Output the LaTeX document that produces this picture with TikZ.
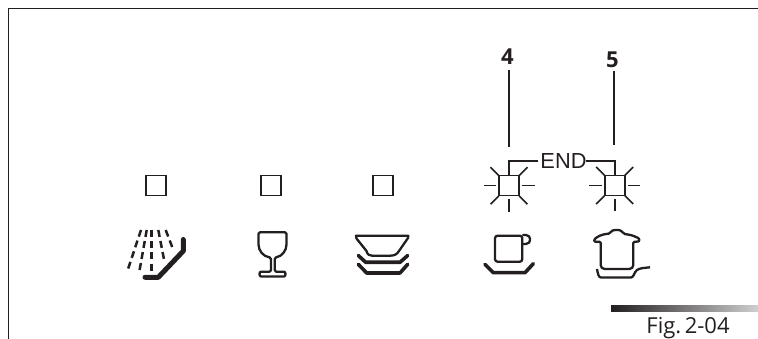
\documentclass[tikz,border=0pt]{standalone}
\usepackage{fontspec}
\setmainfont{Liberation Sans}
\newfontfamily\figfont{Open Sans}
\usetikzlibrary{shadings}
\definecolor{ink}{HTML}{231F20}
\definecolor{barlight}{HTML}{CFCFCF}
\tikzset{
  x=1pt,y=-1pt,
  ink/.style={draw=ink,line cap=butt,line join=round},
  lamp/.style={draw=ink,line width=1.6pt,minimum size=20pt,inner sep=0pt,outer sep=0pt},
  ray/.style={draw=ink,line width=1.6pt},
  leader/.style={draw=ink,line width=2.4pt},
  wire/.style={draw=ink,line width=1.6pt},
  spray/.style={draw=ink,line width=2.5pt,dash pattern=on 7pt off 4.2pt},
  bold icon/.style={ink,line width=3.6pt,line cap=round},
  thin icon/.style={ink,line width=2.3pt},
  num/.style={font=\figfont\bfseries\fontsize{22}{22}\selectfont,text=ink,inner sep=0pt}
}
\begin{document}
\begin{tikzpicture}
\useasboundingbox (0,0) rectangle (758,339);
% frame
\draw[draw=ink,line width=1.3pt] (8.3,339) -- (8.3,8.3) -- (758,8.3);
% lamps
\node[lamp] (l1) at (156,185.7) {};
\node[lamp] (l2) at (270.7,185.7) {};
\node[lamp] (l3) at (382.8,185.7) {};
\node[lamp] (l4) at (509,185.7) {};
\node[lamp] (l5) at (614.7,185.5) {};
% rays
\foreach \n/\cx/\cy in {l4/509/185.7,l5/614.7/185.5}{
  \draw[ray] (\cx-25.5,\cy) -- (\cx-13,\cy);
  \draw[ray] (\cx+13,\cy) -- (\cx+25.5,\cy);
  \draw[ray] (\cx,\cy+13.5) -- (\cx,\cy+26);
  \draw[ray] (\cx-18.5,\cy-18.5) -- (\cx-10.2,\cy-10.2);
  \draw[ray] (\cx+18.5,\cy-18.5) -- (\cx+10.2,\cy-10.2);
  \draw[ray] (\cx-18.5,\cy+18.5) -- (\cx-10.2,\cy+10.2);
  \draw[ray] (\cx+18.5,\cy+18.5) -- (\cx+10.2,\cy+10.2);
}
% END
\node[inner sep=0pt,outer sep=0pt,text=ink,font=\fontsize{21.8}{21.8}\selectfont,anchor=base] (endt) at (563.5,168.2) {END};
\coordinate (wl) at ([xshift=-2pt]endt.west);
\draw[wire] (wl |- 0,160.8) -| (l4.north);
\draw[wire] (586,160.8) -| (l5.north);
% numbers and leaders
\node[num,anchor=base] (n4) at (507.5,64.3) {4};
\node[num,anchor=base] (n5) at (612.5,67.3) {5};
\coordinate (e4) at (508.7,146.7);
\coordinate (e5) at (614,145.3);
\draw[leader] (508.7,70) -- (e4);
\draw[leader] (614,71.3) -- (e5);
% spray icon
\draw[bold icon,line width=5pt] (183.3,239.5) -- (183.3,251) -- (158.3,277.3) -- (145,277.3);
\draw[spray] (141,230) -- (127.7,270);
\draw[spray] (146.7,230) -- (139.3,271.7);
\draw[spray] (151.7,230) -- (151.7,273);
\draw[spray] (158.3,230) -- (164.3,261);
\draw[spray] (165.7,230) -- (172.7,248.3);
% glass
\draw[thin icon,rounded corners=1.5pt] (271,257.5) .. controls (263,256.5) and (258.5,250.5) .. (258.5,243) -- (258.5,232.3) -- (286.5,232.3) -- (286.5,243) .. controls (286.5,250.5) and (282,256.5) .. (274.7,257.5) -- (274.7,271.7) -- (282.5,271.7) .. controls (286,271.7) and (286,276.5) .. (282.5,276.5) -- (262.5,276.5) .. controls (259,276.5) and (259,271.7) .. (262.5,271.7) -- (271,271.7) -- cycle;
% dishes
\draw[thin icon] (356,235.7) -- (408.3,235.7) -- (408,238) -- (399,251) .. controls (397,254.5) and (394,255.7) .. (390,255.7) -- (372,255.7) .. controls (369,255.7) and (367.5,254.5) .. (366.5,251) -- (356.5,238.5) -- cycle;
\draw[bold icon] (358.3,255.5) -- (365.7,262.3) -- (400,262.3) -- (407.7,255.5);
\draw[bold icon] (358.3,264.3) -- (366.7,273) -- (400,273) -- (407.7,264.3);
% cup
\draw[thin icon,rounded corners=2.5pt] (495,235.7) rectangle (522.3,261.7);
\draw[thin icon] (522.3,235) -- (526,235) .. controls (531.5,235) and (531.5,244) .. (526,244) -- (522.3,244);
\draw[bold icon] (485,264.3) -- (493.3,272.7) -- (525,272.7) -- (533.3,263.7);
% pot
\draw[thin icon,rounded corners=1.2pt] (600.7,241.7) -- (600.7,264) .. controls (600.7,267.5) and (602.5,269) .. (606,269) -- (628,269) .. controls (631.5,269) and (633.3,267.5) .. (633.3,264) -- (633.3,241.7) -- (637.5,241.7) .. controls (640,241) and (639.5,238.5) .. (637,237.5) .. controls (632,235) and (628,234.5) .. (624,234) .. controls (622,230.5) and (619,230) .. (617,230) .. controls (614,230) and (611,230.5) .. (610,233.5) .. controls (605,234) and (600,235) .. (596,238) .. controls (593.5,240) and (594,241.7) .. (596.5,241.7) -- cycle;
\draw[thin icon] (597,269) .. controls (598,274) and (598.5,277.5) .. (601,277.5) -- (631,277.5) .. controls (634,277.5) and (634,272) .. (637,270) .. controls (640,268) and (644,268) .. (650,267.3);
% gradient bar
\shade[left color=ink,right color=barlight] (611,305) rectangle (758,311);
% caption
\node[inner sep=0pt,text=ink,font=\figfont\fontsize{22}{22}\selectfont,anchor=base] (cap) at (688,333.3) {Fig.\hspace{3.5pt}2-04};
\end{tikzpicture}
\end{document}
